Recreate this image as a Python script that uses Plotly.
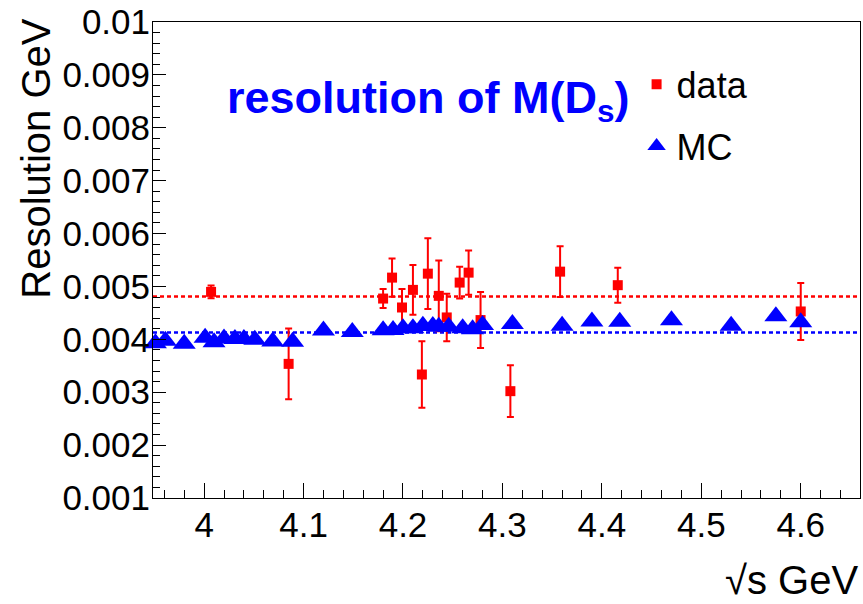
import plotly.graph_objects as go

# ---------------- data ----------------
x_range = [3.9486, 4.6596]
y_range = [0.001, 0.01]

data_x = [4.007, 4.085, 4.180, 4.189, 4.199, 4.210, 4.219, 4.225, 4.236,
          4.244, 4.257, 4.266, 4.278, 4.308, 4.358, 4.416, 4.600]
data_y = [0.004897, 0.003536, 0.004771, 0.005167, 0.004602, 0.004935, 0.003335,
          0.005242, 0.004822, 0.004414, 0.005073, 0.005261, 0.004364, 0.003020,
          0.005280, 0.005024, 0.004527]
data_err = [0.00012, 0.00067, 0.00018, 0.00036, 0.00035, 0.00047, 0.00063,
            0.00067, 0.00067, 0.00045, 0.00030, 0.00042, 0.00053, 0.00049,
            0.00048, 0.00033, 0.00054]

mc_x = [3.951, 3.961, 3.980, 4.001, 4.010, 4.020, 4.031, 4.040, 4.051, 4.069,
        4.089, 4.120, 4.149, 4.180, 4.190, 4.200, 4.210, 4.220, 4.230, 4.236,
        4.246, 4.260, 4.270, 4.280, 4.310, 4.360, 4.390, 4.418, 4.470, 4.530,
        4.575, 4.600]
mc_y = [0.003924, 0.003975, 0.003918, 0.004031, 0.003943, 0.004016, 0.004007,
        0.004007, 0.003994, 0.003960, 0.003956, 0.004169, 0.004141, 0.004173,
        0.004176, 0.004208, 0.004208, 0.004257, 0.004252, 0.004239, 0.004239,
        0.004208, 0.004189, 0.004270, 0.004289, 0.004257, 0.004336, 0.004333,
        0.004361, 0.004257, 0.004436, 0.004325]

data_fit = 0.004812
mc_fit = 0.004131

x_tickvals = [4.0, 4.1, 4.2, 4.3, 4.4, 4.5, 4.6]
x_ticktext = ["4", "4.1", "4.2", "4.3", "4.4", "4.5", "4.6"]
y_tickvals = [0.001, 0.002, 0.003, 0.004, 0.005, 0.006, 0.007, 0.008, 0.009, 0.01]
y_ticktext = ["0.001", "0.002", "0.003", "0.004", "0.005", "0.006", "0.007",
              "0.008", "0.009", "0.01"]

FONT = "Liberation Sans, Arial, Helvetica, sans-serif"
RED = "#ff0000"
BLUE = "#0000ff"

fig = go.Figure()

fig.add_trace(go.Scatter(
    x=data_x, y=data_y, mode="markers", name="data",
    legendgroup="g1", cliponaxis=False,
    marker=dict(symbol="square", size=10, color=RED),
    error_y=dict(type="data", array=data_err, visible=True,
                 color=RED, thickness=2, width=3.5),
))
fig.add_trace(go.Scatter(
    x=mc_x, y=mc_y, mode="markers", name="MC",
    legendgroup="g2", cliponaxis=False,
    marker=dict(symbol="triangle-up", size=20, color=BLUE),
))

for val, col in [(data_fit, RED), (mc_fit, BLUE)]:
    fig.add_shape(type="line", xref="x domain", x0=0, x1=1, yref="y",
                  y0=val, y1=val, layer="below",
                  line=dict(color=col, width=2.5, dash="4px,3px"))

axis_common = dict(
    showline=True, mirror=True, linecolor="black", linewidth=1,
    showgrid=False, zeroline=False, ticks="inside", tickcolor="black",
    tickwidth=1, tickfont=dict(family=FONT, size=35, color="black"),
)

fig.update_xaxes(range=x_range, tickmode="array", tickvals=x_tickvals,
                 ticktext=x_ticktext, ticklen=15, ticklabelstandoff=-4,
                 minor=dict(tickmode="linear", tick0=4.0, dtick=0.02,
                            ticklen=8, ticks="inside", tickcolor="black"),
                 **axis_common)
fig.update_yaxes(range=y_range, tickmode="array", tickvals=y_tickvals,
                 ticktext=y_ticktext, ticklen=13, ticklabelstandoff=-5,
                 minor=dict(tickmode="linear", tick0=0.001, dtick=0.0002,
                            ticklen=7, ticks="inside", tickcolor="black"),
                 **axis_common)

fig.add_annotation(text="Resolution GeV", xref="paper", yref="paper",
                   x=-0.166, y=0.712, textangle=-90, showarrow=False,
                   xanchor="center", yanchor="middle",
                   font=dict(family=FONT, size=40, color="black"))
fig.add_annotation(text="√s GeV", xref="paper", yref="paper",
                   x=1.0, y=-0.172, showarrow=False,
                   xanchor="right", yanchor="middle",
                   font=dict(family=FONT, size=40, color="black"))
fig.add_annotation(text="<b>resolution of M(D<sub>s</sub>)</b>", xref="paper",
                   yref="paper", x=0.1017, y=0.835, showarrow=False,
                   xanchor="left", yanchor="middle",
                   font=dict(family=FONT, size=45, color=BLUE))

fig.update_layout(
    width=863, height=604,
    margin=dict(l=153, r=2, t=20, b=106, pad=0),
    paper_bgcolor="white", plot_bgcolor="white",
    showlegend=True,
    legend=dict(x=0.684, y=0.932, xanchor="left", yanchor="top",
                bgcolor="rgba(0,0,0,0)", borderwidth=0,
                font=dict(family=FONT, size=36, color="black"),
                tracegroupgap=12, itemwidth=30),
)

fig.write_html("out.html")
